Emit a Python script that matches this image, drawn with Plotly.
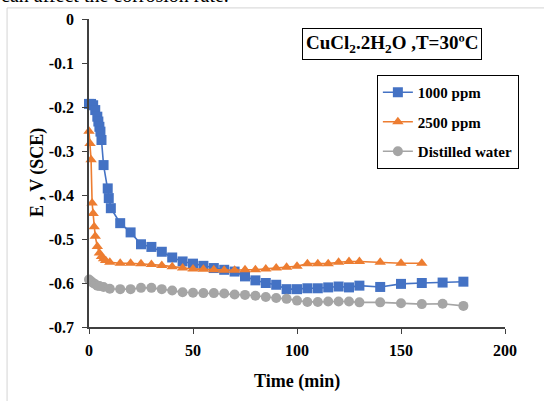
import plotly.graph_objects as go

# ---- data ----
t_1000 = [0, 1, 2, 3, 4, 4.5, 5, 5.5, 6, 7, 9, 9.5, 10.5, 15, 20, 25, 30, 35, 40, 45, 50, 55, 60,
          65, 70, 75, 80, 85, 90, 95, 100, 105, 110, 115, 120, 125, 130, 140, 150, 160, 170, 180]
e_1000 = [-0.193, -0.193, -0.196, -0.207, -0.222, -0.233, -0.245, -0.256, -0.275, -0.332, -0.385,
          -0.407, -0.430, -0.464, -0.485, -0.512, -0.518, -0.529, -0.542, -0.551, -0.556, -0.561,
          -0.566, -0.570, -0.574, -0.585, -0.594, -0.600, -0.604, -0.614, -0.614, -0.612, -0.612,
          -0.610, -0.608, -0.610, -0.606, -0.609, -0.602, -0.600, -0.599, -0.597]

t_2500 = [0, 0.5, 1, 1.5, 2, 2.5, 3, 4, 5, 6, 7, 8, 10, 15, 20, 25, 30, 35, 40, 45, 50, 55, 60,
          65, 70, 75, 80, 85, 90, 95, 100, 105, 110, 115, 120, 125, 130, 140, 150, 160]
e_2500 = [-0.255, -0.283, -0.320, -0.418, -0.442, -0.472, -0.494, -0.517, -0.532, -0.540, -0.545,
          -0.549, -0.553, -0.555, -0.555, -0.556, -0.558, -0.560, -0.563, -0.566, -0.568, -0.569,
          -0.570, -0.571, -0.571, -0.570, -0.570, -0.568, -0.566, -0.564, -0.562, -0.556, -0.556,
          -0.556, -0.553, -0.551, -0.551, -0.553, -0.555, -0.555]

t_water = [0, 1, 2, 3, 4, 5, 7, 10, 15, 20, 25, 30, 35, 40, 45, 50, 55, 60, 65, 70, 75, 80, 85,
           90, 95, 100, 105, 110, 115, 120, 125, 130, 140, 150, 160, 170, 180]
e_water = [-0.592, -0.596, -0.600, -0.603, -0.606, -0.607, -0.609, -0.613, -0.614, -0.614, -0.611,
           -0.611, -0.614, -0.617, -0.621, -0.622, -0.623, -0.623, -0.624, -0.626, -0.627, -0.629,
           -0.632, -0.634, -0.636, -0.640, -0.643, -0.643, -0.642, -0.642, -0.642, -0.644, -0.644,
           -0.646, -0.648, -0.647, -0.652]

series_names = ["1000 ppm", "2500 ppm", "Distilled water"]
y_tick_vals = [0, -0.1, -0.2, -0.3, -0.4, -0.5, -0.6, -0.7]
y_tick_text = ["0", "-0.1", "-0.2", "-0.3", "-0.4", "-0.5", "-0.6", "-0.7"]
x_tick_vals = [0, 50, 100, 150, 200]
x_tick_text = ["0", "50", "100", "150", "200"]

FONT = "Liberation Serif"

fig = go.Figure()
styles = [
    dict(color="#4472C4", symbol="square", size=10),
    dict(color="#ED7D31", symbol="triangle-up", size=10),
    dict(color="#A5A5A5", symbol="circle", size=10),
]
for name, xs, ys, st in zip(series_names, [t_1000, t_2500, t_water],
                            [e_1000, e_2500, e_water], styles):
    fig.add_trace(go.Scatter(
        x=xs, y=ys, name=name, mode="lines+markers", legendgroup=name,
        line=dict(color=st["color"], width=1.6),
        marker=dict(color=st["color"], symbol=st["symbol"], size=st["size"]),
        cliponaxis=False,
    ))

axis_common = dict(
    showgrid=False, zeroline=False, showline=True, linecolor="#404040", linewidth=1.5,
    ticks="outside", ticklen=5, tickcolor="#404040", tickwidth=1.2,
    tickfont=dict(family=FONT, size=16, color="black", weight="bold"),
)
fig.update_xaxes(range=[0, 200], tickvals=x_tick_vals,
                 ticktext=[f"<b>{s}</b>" for s in x_tick_text],
                 ticklabelstandoff=3, **axis_common)
fig.update_yaxes(range=[-0.7, 0], tickvals=y_tick_vals,
                 ticktext=[f"<b>{s}</b>" for s in y_tick_text],
                 ticklabelstandoff=5, **axis_common)

fig.update_layout(
    width=544, height=401,
    margin=dict(l=89, r=39, t=19, b=74),
    paper_bgcolor="white", plot_bgcolor="white",
    font=dict(family=FONT, color="black"),
    showlegend=True,
    legend=dict(
        x=0.692, y=0.818, xanchor="left", yanchor="top",
        bordercolor="black", borderwidth=1, bgcolor="white",
        font=dict(family=FONT, size=15, color="black", weight="bold"),
        tracegroupgap=7, itemwidth=30,
    ),
    shapes=[dict(type="rect", xref="paper", yref="paper",
                 x0=-0.197, x1=1.3, y0=-0.5, y1=1.036,
                 line=dict(color="#d4d4d4", width=1), layer="below")],
    annotations=[
        dict(text="CuCl<sub>2</sub>.2H<sub>2</sub>O ,T=30ºC", xref="paper", yref="paper",
             x=0.728, y=0.92, xanchor="center", yanchor="middle", showarrow=False,
             font=dict(family=FONT, size=19, color="black", weight="bold"),
             bordercolor="black", borderwidth=1, borderpad=3, bgcolor="white"),
        dict(text="E , V (SCE)", xref="paper", yref="paper", x=-0.125, y=0.5,
             textangle=-90, showarrow=False, xanchor="center", yanchor="middle",
             font=dict(family=FONT, size=18, color="black", weight="bold")),
        dict(text="Time (min)", xref="paper", yref="paper", x=0.5, y=-0.178,
             showarrow=False, xanchor="center", yanchor="middle",
             font=dict(family=FONT, size=18, color="black", weight="bold")),
        dict(text="can affect the corrosion rate.", xref="paper", yref="paper",
             x=-0.216, y=1.035, xanchor="left", yanchor="bottom", showarrow=False,
             font=dict(family=FONT, size=20, color="black")),
    ],
)

fig.write_html("out.html")
